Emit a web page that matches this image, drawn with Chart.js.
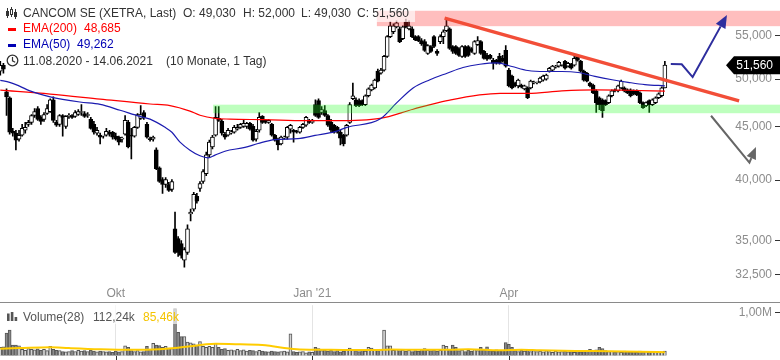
<!DOCTYPE html>
<html>
<head>
<meta charset="utf-8">
<script src="https://cdn.jsdelivr.net/npm/chart.js@4.4.1/dist/chart.umd.min.js"></script>
<style>
  html, body { margin: 0; padding: 0; background: #fff; }
  #wrap { position: relative; width: 780px; height: 360px; overflow: hidden; font-family: "Liberation Sans", Arial, sans-serif; }
  canvas { position: absolute; left: 0; }
  #priceChart { top: 0; }
  #volChart { top: 301px; }
  .t { position: absolute; font-size: 12px; line-height: 14px; white-space: pre; color: #333; }
  .box { position: absolute; background: rgba(255, 255, 255, 0.65); }
  svg { position: absolute; overflow: visible; }
</style>
</head>
<body>
<div id="wrap">
  <canvas id="priceChart" width="780" height="301"></canvas>
  <canvas id="volChart" width="780" height="59"></canvas>

  <div class="box" style="left:0;top:0;width:415px;height:22px"></div>
  <div class="box" style="left:0;top:304px;width:182px;height:20px"></div>

  <!-- legenda do gráfico de preço -->
  <svg style="left:6px;top:7px" width="12" height="12">
    <line x1="1.5" y1="1" x2="1.5" y2="11" stroke="#333" stroke-width="1"/>
    <rect x="0.5" y="4.5" width="2" height="4" fill="#333" stroke="#333" stroke-width="1"/>
    <line x1="5.5" y1="0" x2="5.5" y2="10" stroke="#333" stroke-width="1"/>
    <rect x="4.5" y="2.5" width="2" height="5" fill="#fff" stroke="#333" stroke-width="1"/>
    <line x1="9.5" y1="2" x2="9.5" y2="12" stroke="#333" stroke-width="1"/>
    <rect x="8.5" y="5.5" width="2" height="4" fill="#333" stroke="#333" stroke-width="1"/>
  </svg>
  <span class="t" style="left:23px;top:6px">CANCOM SE (XETRA, Last)</span>
  <span class="t" style="left:183px;top:6px">O: 49,030</span>
  <span class="t" style="left:243px;top:6px">H: 52,000</span>
  <span class="t" style="left:301px;top:6px">L: 49,030</span>
  <span class="t" style="left:357px;top:6px">C: 51,560</span>

  <svg style="left:8px;top:28px" width="8" height="3"><rect width="8" height="3" fill="#f00"/></svg>
  <span class="t" style="left:23px;top:21px;color:#f00">EMA(200)</span>
  <span class="t" style="left:84px;top:21px;color:#f00">48,685</span>

  <svg style="left:8px;top:44px" width="8" height="3"><rect width="8" height="3" fill="#0000b4"/></svg>
  <span class="t" style="left:23px;top:37px;color:#0000b4">EMA(50)</span>
  <span class="t" style="left:77px;top:37px;color:#0000b4">49,262</span>

  <svg style="left:6px;top:54px" width="13" height="13">
    <circle cx="6.5" cy="6.5" r="5.3" fill="none" stroke="#333" stroke-width="1.3"/>
    <polyline points="6.5,3 6.5,6.8 9.2,8.2" fill="none" stroke="#333" stroke-width="1.2"/>
  </svg>
  <span class="t" style="left:23px;top:54px">11.08.2020 - 14.06.2021</span>
  <span class="t" style="left:166px;top:54px">(10 Monate, 1 Tag)</span>

  <!-- legenda do volume -->
  <svg style="left:7px;top:312px" width="11" height="9">
    <rect x="0" y="1.5" width="2.6" height="7.5" fill="#555"/>
    <rect x="3.8" y="0" width="2.6" height="9" fill="#555"/>
    <rect x="7.6" y="5" width="2.6" height="4" fill="#555"/>
  </svg>
  <span class="t" style="left:23px;top:310px;color:#555">Volume(28)</span>
  <span class="t" style="left:93px;top:310px;color:#555">112,24k</span>
  <span class="t" style="left:143px;top:310px;color:#f5c400">85,46k</span>
</div>

<script>
// eixo x: índice do pregão (11.08.2020 = 0)
const monthIdx = [37, 100, 163];
const monthLbl = ['Okt', "Jan '21", 'Apr'];
const priceTicks = [32.5, 35, 40, 45, 50, 55];
const volTicks = [1000];

// velas diárias (EUR)
const open = [
  50.88, 51.55, 48.61, 47.98, 44.56, 44.37, 43.79, 44.17, 44.66, 45.24,
  45.44, 46.14, 46.85, 45.94, 45.74, 46.34, 46.54, 47.77, 45.44, 45.24,
  46.14, 45.05, 46.04, 46.14, 46.04, 46.24, 46.44, 46.34, 46.14, 45.74,
  45.24, 44.37, 44.17, 44.08, 44.17, 44.46, 44.46, 44.08, 43.98, 43.79,
  44.27, 45.44, 44.17, 44.08, 44.95, 45.84, 46.44, 45.24, 43.79, 43.79,
  42.76, 41.11, 40.06, 39.62, 39.62, 39.19, 35.93, 35.16, 34.77, 33.52,
  34.10, 37.12, 37.52, 38.60, 39.28, 39.88, 40.58, 42.30, 43.04, 44.17,
  45.84, 45.54, 44.27, 44.17, 44.37, 44.46, 44.76, 44.95, 45.05, 45.05,
  45.34, 45.05, 43.79, 44.66, 46.04, 45.64, 45.44, 45.24, 44.17, 43.70,
  43.32, 43.89, 43.98, 44.76, 44.66, 44.56, 44.46, 44.95, 45.15, 45.64,
  45.44, 47.25, 47.67, 46.44, 46.64, 46.14, 45.44, 45.15, 44.95, 44.46,
  44.17, 44.17, 45.44, 47.87, 47.77, 47.67, 47.67, 47.25, 48.19, 48.82,
  49.03, 50.88, 50.65, 50.99, 52.57, 54.90, 55.50, 56.10, 55.86, 54.66,
  56.72, 55.86, 55.86, 54.90, 54.90, 54.42, 54.30, 52.91, 53.72, 54.90,
  53.14, 54.30, 54.90, 55.62, 55.86, 53.72, 53.72, 53.49, 52.57, 53.72,
  53.72, 53.49, 52.91, 53.95, 54.30, 53.14, 52.68, 52.68, 52.11, 52.11,
  52.57, 52.34, 53.26, 50.99, 50.32, 49.57, 49.25, 49.35, 48.93, 49.03,
  49.03, 49.57, 49.57, 49.68, 49.89, 50.00, 50.88, 50.99, 51.32, 51.44,
  51.55, 52.00, 51.44, 51.66, 51.55, 52.57, 52.00, 50.88, 50.65, 49.57,
  49.35, 48.71, 47.98, 47.77, 47.67, 47.46, 48.19, 48.82, 48.71, 49.03,
  49.03, 48.82, 48.82, 48.71, 48.71, 48.50, 47.46, 47.15, 47.67, 47.25,
  47.46, 47.98, 48.19, 49.03
];
const high = [
  52.00, 51.77, 48.93, 48.08, 44.85, 44.66, 44.66, 45.24, 45.44, 45.64,
  46.24, 46.85, 47.05, 46.14, 46.44, 47.25, 47.87, 48.08, 45.64, 46.24,
  46.24, 46.14, 46.34, 46.24, 46.64, 46.74, 47.25, 46.54, 46.44, 45.94,
  45.54, 44.95, 44.37, 44.17, 44.85, 44.66, 44.56, 44.37, 44.08, 43.98,
  46.14, 45.64, 44.85, 45.05, 46.34, 47.15, 46.64, 45.44, 43.98, 44.08,
  42.95, 41.20, 40.23, 40.23, 39.80, 40.06, 37.28, 35.31, 35.00, 34.47,
  36.25, 37.52, 38.94, 38.85, 39.88, 40.94, 42.57, 43.70, 44.17, 47.05,
  47.05, 45.74, 44.46, 44.85, 44.66, 45.15, 45.24, 45.34, 45.74, 45.44,
  45.44, 45.24, 44.76, 46.44, 46.14, 45.74, 45.74, 45.34, 44.27, 43.89,
  44.08, 44.08, 45.05, 45.24, 44.76, 44.66, 45.05, 45.34, 46.04, 45.74,
  45.74, 47.77, 47.87, 47.05, 47.15, 46.24, 45.74, 45.24, 45.05, 44.66,
  44.27, 45.24, 47.46, 49.57, 47.98, 47.87, 47.77, 48.29, 49.03, 49.46,
  50.00, 51.10, 51.21, 52.68, 55.02, 56.72, 56.47, 56.84, 56.10, 56.23,
  57.09, 56.84, 56.10, 55.02, 55.02, 54.66, 54.54, 53.95, 53.84, 55.02,
  53.37, 55.14, 55.74, 57.21, 55.98, 53.84, 53.84, 53.60, 53.84, 53.84,
  53.84, 53.60, 54.42, 54.90, 54.42, 53.26, 52.91, 52.80, 52.34, 52.23,
  52.91, 52.68, 53.84, 51.21, 50.43, 49.68, 50.00, 49.46, 49.35, 49.14,
  49.89, 49.78, 49.68, 50.21, 50.43, 50.54, 51.32, 51.55, 51.55, 52.00,
  51.66, 52.11, 51.89, 51.77, 52.68, 52.68, 52.11, 50.99, 50.76, 49.68,
  49.46, 48.82, 48.08, 47.87, 47.77, 48.29, 48.82, 48.93, 49.35, 49.89,
  49.14, 48.93, 48.93, 48.82, 48.82, 48.61, 47.56, 47.56, 47.77, 47.87,
  48.08, 48.50, 49.14, 52.00
];
const low = [
  50.43, 50.65, 46.14, 44.27, 44.08, 42.76, 43.60, 44.08, 44.37, 45.05,
  45.24, 45.94, 45.64, 45.24, 45.54, 46.24, 46.44, 45.44, 45.05, 45.05,
  44.08, 44.85, 45.84, 45.84, 45.94, 46.14, 46.14, 45.94, 45.94, 44.76,
  44.27, 44.17, 43.32, 43.89, 44.08, 44.08, 43.79, 43.70, 43.23, 43.51,
  44.17, 42.95, 41.93, 43.98, 44.85, 45.74, 45.74, 43.89, 43.60, 43.60,
  40.94, 39.80, 38.85, 39.36, 39.02, 39.02, 34.03, 33.81, 33.67, 33.01,
  33.96, 36.56, 37.36, 38.02, 39.02, 39.71, 40.41, 42.11, 42.85, 44.08,
  45.54, 44.17, 43.79, 44.08, 44.27, 44.37, 44.66, 44.85, 44.95, 44.85,
  44.66, 43.60, 43.60, 44.46, 45.34, 45.34, 45.34, 44.08, 43.60, 42.76,
  43.23, 43.79, 43.79, 44.37, 43.51, 44.37, 44.37, 44.85, 45.05, 45.34,
  45.34, 46.04, 45.84, 46.24, 46.04, 45.05, 44.46, 44.37, 44.37, 43.23,
  43.13, 44.08, 45.34, 47.77, 47.05, 47.05, 47.15, 47.15, 48.08, 48.71,
  48.93, 49.68, 50.54, 50.88, 52.45, 54.78, 55.26, 55.98, 54.19, 54.54,
  55.98, 55.74, 54.78, 54.42, 54.30, 53.84, 53.14, 52.80, 53.03, 53.60,
  52.68, 54.07, 54.07, 55.50, 53.37, 52.91, 52.80, 52.57, 52.45, 52.45,
  52.57, 53.03, 52.80, 53.84, 52.80, 52.23, 52.11, 52.23, 51.10, 51.66,
  51.66, 51.89, 51.32, 49.14, 48.93, 49.14, 49.03, 49.03, 48.82, 47.87,
  48.93, 49.46, 49.46, 49.57, 49.78, 49.89, 50.76, 50.88, 51.21, 51.32,
  51.44, 51.10, 51.32, 51.10, 51.44, 52.00, 50.76, 49.78, 49.68, 49.14,
  48.40, 46.44, 46.74, 45.94, 47.15, 47.36, 48.08, 48.61, 48.61, 48.93,
  48.61, 48.40, 48.08, 48.29, 48.19, 47.36, 46.85, 47.05, 46.44, 47.15,
  47.36, 47.87, 48.08, 49.03
];
const close = [
  51.55, 51.10, 48.08, 44.46, 44.37, 43.70, 44.17, 44.85, 44.95, 45.44,
  46.14, 46.54, 45.74, 45.54, 46.24, 46.85, 47.77, 45.64, 45.15, 46.14,
  45.94, 46.04, 46.14, 45.94, 46.44, 46.54, 46.54, 46.04, 46.24, 44.85,
  44.46, 44.66, 43.98, 44.10, 44.56, 44.27, 43.98, 43.79, 43.51, 43.80,
  45.64, 43.04, 44.08, 44.95, 46.24, 46.24, 45.94, 43.98, 43.75, 43.98,
  41.02, 39.88, 39.62, 40.06, 39.11, 39.88, 34.10, 34.10, 33.88, 34.32,
  35.93, 37.28, 38.77, 38.18, 39.71, 40.76, 42.30, 43.51, 43.98, 45.94,
  45.64, 44.37, 43.98, 44.66, 44.46, 44.95, 44.95, 45.24, 45.34, 45.34,
  44.76, 43.70, 44.56, 45.94, 45.44, 45.44, 45.64, 44.17, 43.70, 43.23,
  43.98, 43.98, 44.95, 45.15, 44.46, 44.46, 44.95, 45.24, 45.94, 45.44,
  45.54, 46.14, 45.94, 46.74, 46.14, 45.15, 44.66, 44.46, 44.46, 43.89,
  43.32, 45.15, 47.25, 48.19, 47.15, 47.15, 47.25, 48.19, 48.93, 49.35,
  49.89, 49.78, 50.99, 52.57, 54.90, 56.23, 56.23, 56.59, 54.30, 56.10,
  56.10, 56.23, 54.90, 54.54, 54.42, 54.07, 53.26, 53.84, 53.14, 53.72,
  52.91, 54.90, 55.50, 56.23, 53.49, 53.14, 52.91, 52.68, 53.72, 52.57,
  52.68, 53.14, 54.30, 54.42, 52.91, 52.34, 52.23, 52.34, 51.77, 51.77,
  51.77, 52.00, 51.44, 49.25, 49.03, 49.25, 49.89, 49.14, 49.25, 47.98,
  49.78, 49.68, 49.60, 50.11, 50.32, 50.43, 51.21, 51.44, 51.44, 51.89,
  51.57, 51.21, 51.77, 51.21, 52.34, 52.11, 50.88, 49.89, 49.78, 49.25,
  48.50, 47.46, 47.25, 46.64, 47.25, 48.19, 48.71, 48.71, 49.25, 49.78,
  48.71, 48.50, 48.19, 48.40, 48.29, 47.46, 46.95, 47.46, 47.25, 47.77,
  47.98, 48.40, 49.03, 51.56
];

// volume diário (mil ações)
const volumeK = [
  200, 210, 530, 600, 250, 250, 230, 150, 130, 170,
  150, 140, 160, 130, 150, 120, 220, 150, 130, 120,
  100, 90, 100, 120, 100, 130, 110, 120, 100, 130,
  110, 90, 110, 100, 90, 100, 80, 110, 90, 100,
  230, 200, 120, 100, 120, 90, 100, 220, 150, 290,
  250, 240, 200, 220, 180, 170, 1100, 550, 450, 450,
  320, 300, 280, 250, 330, 220, 200, 220, 200, 290,
  200, 150, 170, 130, 140, 120, 150, 120, 140, 110,
  130, 120, 100, 130, 110, 100, 90, 110, 100, 90,
  100, 110, 90, 510, 100, 80, 90, 100, 70, 90,
  80, 200, 170, 120, 140, 110, 130, 100, 120, 90,
  110, 130, 180, 150, 120, 100, 130, 110, 200, 180,
  130, 120, 140, 600, 230, 230, 130, 150, 120, 140,
  110, 130, 100, 120, 110, 150, 170, 130, 120, 140,
  110, 130, 250, 220, 140, 250, 200, 120, 140, 100,
  130, 110, 150, 120, 200, 140, 210, 120, 110, 140,
  120, 130, 310, 270, 200, 120, 100, 130, 110, 140,
  100, 120, 100, 110, 90, 120, 100, 80, 110, 90,
  100, 110, 90, 100, 80, 110, 90, 100, 120, 150,
  120, 140, 200, 170, 120, 100, 110, 90, 100, 80,
  110, 100, 90, 100, 80, 110, 90, 100, 80, 90,
  100, 80, 90, 112.24
];

// médias (índice, valor)
const ema200X = [0, 16, 32, 48, 54.4, 60.8, 64, 68.8, 73.6, 84.8, 97.7, 107.3, 121.7, 132.3, 143.2, 160.2, 169.1, 180, 190.6, 201.2, 213];
const ema200 = [48.79, 48.37, 47.84, 47.32, 47.16, 46.59, 46.16, 45.84, 45.77, 45.71, 45.61, 45.61, 45.84, 46.78, 47.68, 48.44, 48.44, 48.71, 48.82, 48.78, 48.685];
const ema50X = [0, 3, 6, 9.5, 16, 25.5, 32, 38.4, 44.8, 48, 52.8, 55, 57.6, 60.8, 64, 66.6, 68.8, 72, 78.4, 82.6, 88, 95.4, 100.9, 107.3, 111.1, 121.7, 127.1, 132.3, 137.7, 143.2, 148.3, 153.7, 159.2, 164, 169.1, 174.6, 180, 185.2, 190.6, 196.1, 201.2, 206.6, 213];
const ema50 = [49.86, 49.64, 49.25, 48.71, 48.08, 47.53, 47.28, 46.67, 46.04, 45.77, 44.95, 44.46, 43.51, 42.74, 42.21, 42.02, 42.27, 42.64, 43.0, 43.37, 43.75, 43.84, 44.15, 44.53, 44.95, 45.77, 47.46, 49.03, 49.93, 50.65, 51.29, 51.66, 51.82, 51.40, 50.95, 50.84, 50.84, 50.73, 50.29, 49.92, 49.64, 49.39, 49.262];
const volMaX = [0, 6, 16, 22, 32, 42, 51, 56, 61, 66, 69, 77, 85, 91, 96, 106, 115, 123, 125, 135, 144, 150, 160, 167, 173, 186, 195, 205, 213];
const volMa = [167, 180, 200, 180, 153, 140, 153, 180, 220, 267, 280, 267, 247, 180, 147, 140, 133, 140, 147, 140, 140, 153, 127, 140, 127, 113, 107, 93, 85.46];

// desenhos de análise técnica
const resistZone = { from: 120.7, lo: 56.19, hi: 58.13 };
const supportZone = { from: 68.2, lo: 46.37, hi: 47.25 };
const trendLine = [[142.4, 57.20], [236.8, 47.65]];
const upArrow = [[214.9, 51.69], [218.4, 51.66], [221.9, 50.22], [232.9, 57.59]];
const downArrow = [[227.8, 46.11], [240.1, 41.59], [242.2, 43.04]];

const xMin = -0.096, xMax = 248.3;
const fontFam = '"Liberation Sans", Arial, sans-serif';
Chart.defaults.font.family = fontFam;
Chart.defaults.font.size = 12;

const de = (v, d) => v.toFixed(d).replace('.', ',');
const idx = close.map((_, i) => i);
const isUp = idx.map(i => close[i] >= open[i]);

function drawArrow(ctx, pts, color, head) {
  const n = pts.length;
  const [tx, ty] = pts[n - 1], [px, py] = pts[n - 2];
  const len = Math.hypot(tx - px, ty - py), ux = (tx - px) / len, uy = (ty - py) / len;
  const bx = tx - ux * head, by = ty - uy * head;
  ctx.strokeStyle = color; ctx.fillStyle = color; ctx.lineWidth = 2;
  ctx.beginPath();
  ctx.moveTo(pts[0][0], pts[0][1]);
  for (let k = 1; k < n - 1; k++) ctx.lineTo(pts[k][0], pts[k][1]);
  ctx.lineTo(bx, by);
  ctx.stroke();
  ctx.beginPath();
  ctx.moveTo(tx, ty);
  ctx.lineTo(bx - uy * head * 0.42, by + ux * head * 0.42);
  ctx.lineTo(bx + uy * head * 0.42, by - ux * head * 0.42);
  ctx.closePath();
  ctx.fill();
}

const overlays = {
  id: 'overlays',
  afterDatasetsDraw(chart) {
    const { ctx, scales: { x, y } } = chart;
    const px = p => [x.getPixelForValue(p[0]), y.getPixelForValue(p[1])];
    ctx.save();
    // zonas
    [[resistZone, 'rgba(255, 40, 40, 0.3)'], [supportZone, 'rgba(40, 255, 40, 0.3)']].forEach(([z, c]) => {
      const x0 = x.getPixelForValue(z.from), y0 = y.getPixelForValue(z.hi), y1 = y.getPixelForValue(z.lo);
      ctx.fillStyle = c;
      ctx.fillRect(x0, y0, chart.width - x0, y1 - y0);
    });
    // linha de tendência
    const a = px(trendLine[0]), b = px(trendLine[1]);
    ctx.strokeStyle = 'rgb(242, 78, 56)';
    ctx.lineWidth = 3.5;
    ctx.beginPath(); ctx.moveTo(a[0], a[1]); ctx.lineTo(b[0], b[1]); ctx.stroke();
    // setas
    drawArrow(ctx, upArrow.map(px), '#2e2e9e', 13);
    drawArrow(ctx, downArrow.map(px), '#666', 12);
    ctx.restore();
  },
  afterDraw(chart) {
    const { ctx, scales: { y } } = chart;
    const last = close[close.length - 1];
    const yc = y.getPixelForValue(last);
    const w = chart.width;
    ctx.save();
    ctx.fillStyle = '#000';
    ctx.beginPath();
    ctx.moveTo(w - 54, yc);
    ctx.lineTo(w - 46, yc - 9);
    ctx.lineTo(w, yc - 9);
    ctx.lineTo(w, yc + 9);
    ctx.lineTo(w - 46, yc + 9);
    ctx.closePath();
    ctx.fill();
    ctx.fillStyle = '#fff';
    ctx.font = '12px ' + fontFam;
    ctx.textAlign = 'right';
    ctx.textBaseline = 'middle';
    ctx.fillText(de(last, 3), w - 7, yc + 0.5);
    ctx.restore();
  }
};

new Chart(document.getElementById('priceChart'), {
  type: 'bar',
  data: {
    datasets: [
      {
        type: 'line', label: 'EMA(50)',
        data: ema50X.map((v, k) => ({ x: v, y: ema50[k] })),
        borderColor: '#1c1cb0', borderWidth: 1.2, pointRadius: 0, cubicInterpolationMode: 'monotone'
      },
      {
        type: 'line', label: 'EMA(200)',
        data: ema200X.map((v, k) => ({ x: v, y: ema200[k] })),
        borderColor: '#ff0000', borderWidth: 1.2, pointRadius: 0, cubicInterpolationMode: 'monotone'
      },
      {
        label: 'body',
        data: idx.map(i => ({ x: i, y: [open[i], close[i]] })),
        backgroundColor: idx.map(i => isUp[i] ? '#fff' : '#000'),
        borderColor: '#000', borderWidth: 1, borderSkipped: false,
        barThickness: 4, minBarLength: 1, grouped: false
      },
      {
        label: 'wick',
        data: idx.map(i => ({ x: i, y: [low[i], high[i]] })),
        backgroundColor: '#000', borderWidth: 0,
        barThickness: 1, grouped: false
      }
    ]
  },
  options: {
    responsive: false,
    animation: false,
    events: [],
    layout: { padding: 0 },
    plugins: { legend: { display: false }, tooltip: { enabled: false } },
    scales: {
      x: {
        type: 'linear', min: xMin, max: xMax, offset: false,
        grid: { display: false, drawTicks: false, offset: false },
        border: { display: false },
        afterBuildTicks: s => { s.ticks = monthIdx.map(v => ({ value: v })); },
        afterFit: s => { s.height = 18; },
        ticks: {
          color: '#8c8c8c', padding: 3, maxRotation: 0, autoSkip: false,
          callback: v => monthLbl[monthIdx.indexOf(v)]
        }
      },
      y: {
        type: 'logarithmic', position: 'right', min: 31.88, max: 58.98,
        afterBuildTicks: s => { s.ticks = priceTicks.map(v => ({ value: v })); },
        afterFit: s => { s.width = 5; },
        grid: { drawOnChartArea: false, drawTicks: true, tickLength: 5, color: '#333' },
        border: { display: false },
        ticks: {
          mirror: true, padding: -3, color: '#8c8c8c', autoSkip: false,
          callback: v => de(v, 3)
        }
      }
    }
  },
  plugins: [overlays]
});

const volPane = {
  id: 'volPane',
  afterDraw(chart) {
    const { ctx, scales: { x } } = chart;
    ctx.save();
    ctx.fillStyle = '#8a8a8a';
    ctx.fillRect(0, 1, chart.width, 1);
    ctx.fillStyle = '#333';
    monthIdx.forEach(v => {
      ctx.fillRect(Math.round(x.getPixelForValue(v)), chart.height - 4, 1, 4);
    });
    ctx.restore();
  }
};

new Chart(document.getElementById('volChart'), {
  type: 'bar',
  data: {
    datasets: [
      {
        type: 'line', label: 'MA(28)',
        data: volMaX.map((v, k) => ({ x: v, y: volMa[k] })),
        borderColor: '#ffcc00', borderWidth: 2, pointRadius: 0, cubicInterpolationMode: 'monotone'
      },
      {
        label: 'Volume',
        data: idx.map(i => ({ x: i, y: volumeK[i] })),
        backgroundColor: idx.map(i => isUp[i] ? '#d4d4d4' : '#8c8c8c'),
        borderColor: '#555', borderWidth: 1,
        barThickness: 3, grouped: false
      }
    ]
  },
  options: {
    responsive: false,
    animation: false,
    events: [],
    layout: { padding: 0 },
    plugins: { legend: { display: false }, tooltip: { enabled: false } },
    scales: {
      x: {
        type: 'linear', min: xMin, max: xMax, offset: false,
        grid: { color: '#e4e4e4', drawTicks: false, offset: false },
        border: { display: false },
        afterBuildTicks: s => { s.ticks = monthIdx.map(v => ({ value: v })); },
        afterFit: s => { s.height = 0; },
        ticks: { display: false }
      },
      y: {
        position: 'right', min: 0, max: 1180,
        afterBuildTicks: s => { s.ticks = volTicks.map(v => ({ value: v })); },
        afterFit: s => { s.width = 5; },
        grid: { drawOnChartArea: false, drawTicks: true, tickLength: 5, color: '#333' },
        border: { display: false },
        ticks: {
          mirror: true, padding: -3, color: '#8c8c8c',
          callback: v => de(v / 1000, 2) + 'M'
        }
      }
    }
  },
  plugins: [volPane]
});
</script>
</body>
</html>
